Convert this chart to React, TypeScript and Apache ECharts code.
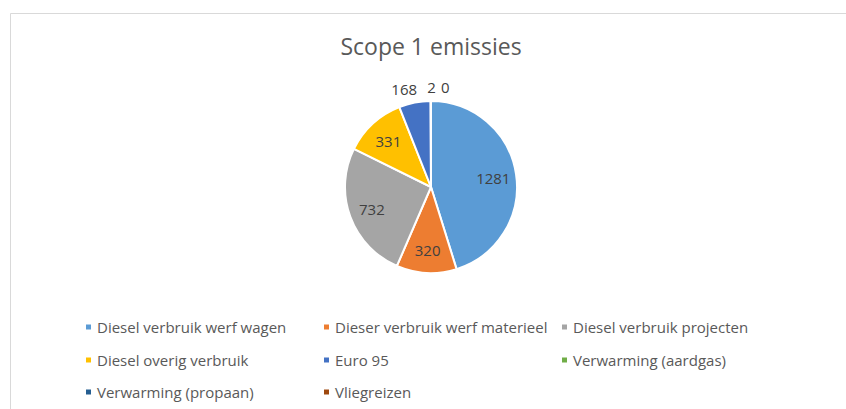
import React, { useEffect, useRef } from "react";
import * as echarts from "echarts";

const titleText = "Scope 1 emissies";
const categories = [
  "Diesel verbruik werf wagen",
  "Dieser verbruik werf materieel",
  "Diesel verbruik projecten",
  "Diesel overig verbruik",
  "Euro 95",
  "Verwarming (aardgas)",
  "Verwarming (propaan)",
  "Vliegreizen",
];
const values = [1281, 320, 732, 331, 168, 2, 0, 0];
const colors = ["#5B9BD5", "#ED7D31", "#A5A5A5", "#FFC000", "#4472C4", "#70AD47", "#255E91", "#9E480E"];
const labelPlacement = ["inside", "inside", "inside", "inside", "outside", "outside", "outside", "none"];
const legendRows = [categories.slice(0, 3), categories.slice(3, 6), categories.slice(6, 8)];

const FONT = "'Open Sans', 'Liberation Sans', sans-serif";

export default function App() {
  const ref = useRef<HTMLDivElement>(null);
  useEffect(() => {
    if (!ref.current) return;
    const chart = echarts.init(ref.current, undefined, { renderer: "svg" });
    const center = [431, 187];
    const R = 86;
    const rowTops = [317, 350, 382];
    chart.setOption({
      animation: false,
      title: {
        text: titleText,
        left: "center",
        top: 34,
        padding: 0,
        textStyle: { fontFamily: FONT, fontSize: 23, fontWeight: "normal", color: "#595959" },
      },
      graphic: [
        {
          type: "rect",
          shape: { x: 10.5, y: 13.5, width: 1000, height: 600 },
          style: { fill: "none", stroke: "#D9D9D9", lineWidth: 1 },
          silent: true,
        },
      ],
      legend: legendRows.map((row, k) => ({
        data: row,
        left: 84,
        top: rowTops[k],
        orient: "horizontal",
        icon: "rect",
        itemWidth: 7,
        itemHeight: 7,
        itemGap: 5,
        padding: 0,
        selectedMode: false,
        textStyle: { width: 220, fontFamily: FONT, fontSize: 15, color: "#595959", lineHeight: 20 },
      })),
      series: [
        {
          type: "pie",
          center,
          radius: R,
          startAngle: 90,
          clockwise: true,
          avoidLabelOverlap: false,
          emphasis: { disabled: true },
          itemStyle: { borderColor: "#ffffff", borderWidth: 2 },
          label: {
            show: true,
            position: "outside",
            formatter: "{c}",
            color: "#404040",
            fontFamily: FONT,
            fontSize: 15,
          },
          labelLine: { show: false, length: 14, length2: -10 },
          data: categories.map((n, i) => ({
            name: n,
            value: values[i],
            itemStyle: { color: colors[i] },
            label: {
              show: labelPlacement[i] === "outside",
              padding: i === 6 ? [4, 0, 0, 15] : 0,
            },
          })),
        },
        {
          type: "pie",
          center,
          radius: [34, R],
          startAngle: 90,
          clockwise: true,
          silent: true,
          avoidLabelOverlap: false,
          emphasis: { disabled: true },
          itemStyle: { color: "rgba(0,0,0,0)", borderWidth: 0 },
          label: {
            show: true,
            position: "inside",
            formatter: "{c}",
            color: "#404040",
            fontFamily: FONT,
            fontSize: 15,
          },
          labelLine: { show: false },
          data: values.map((v, i) => ({
            value: v,
            label: { show: labelPlacement[i] === "inside" },
          })),
        },
      ],
    });
    return () => chart.dispose();
  }, []);
  return (
    <div style={{ position: "fixed", left: 0, top: 0, width: 846, height: 409, overflow: "hidden", background: "#fff" }}>
      <div ref={ref} style={{ width: 862, height: 409 }} />
    </div>
  );
}
